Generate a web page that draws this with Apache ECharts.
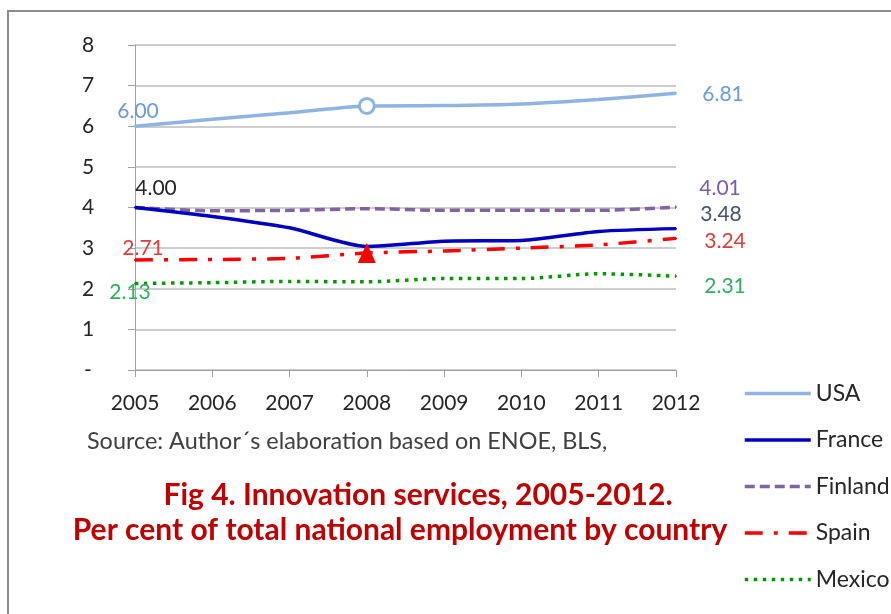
<!DOCTYPE html>
<html><head><meta charset="utf-8">
<script src="https://cdn.jsdelivr.net/npm/echarts@6/dist/echarts.min.js"></script>
<style>html,body{margin:0;padding:0;background:#fff}#c{width:891px;height:614px}</style>
</head><body><div id="c"></div>
<script>
const years = ['2005','2006','2007','2008','2009','2010','2011','2012'];
const yTickLabels = ['-','1','2','3','4','5','6','7','8'];
const usa     = [6.00, 6.17, 6.33, 6.50, 6.51, 6.55, 6.66, 6.81];
const france  = [4.00, 3.78, 3.50, 3.04, 3.17, 3.19, 3.41, 3.48];
const finland = [4.00, 3.92, 3.93, 3.97, 3.93, 3.93, 3.93, 4.01];
const spain   = [2.71, 2.72, 2.75, 2.88, 2.93, 3.00, 3.08, 3.24];
const mexico  = [2.13, 2.15, 2.18, 2.17, 2.25, 2.25, 2.37, 2.31];
const seriesNames = ['USA','France','Finland','Spain','Mexico'];
const sourceText = 'Source: Author\u00b4s elaboration based on ENOE, BLS,';
const titleLine1 = 'Fig 4. Innovation services, 2005-2012.';
const titleLine2 = 'Per cent of total national employment by country';

const FONT = 'Lato';
const chart = echarts.init(document.getElementById('c'));

function build(vals, color, cfg) {
  return vals.map((v, i) => {
    const item = { value: v };
    const lab = cfg.labels[i];
    if (lab) {
      item.symbol = 'circle';
      item.symbolSize = 2;
      item.itemStyle = { color };
      item.label = { show: true, position: 'inside', offset: lab.off, color: lab.color,
        fontFamily: FONT, fontSize: 21, formatter: p => p.value.toFixed(2) };
    }
    if (cfg.marker && cfg.marker.index === i) {
      item.symbol = cfg.marker.symbol;
      item.symbolSize = cfg.marker.size;
      item.itemStyle = cfg.marker.itemStyle;
    }
    return item;
  });
}

function mk(name, vals, color, width, type, labels, marker, z) {
  return {
    name, type: 'line', smooth: 0.25, symbol: 'none', z: z,
    lineStyle: { color, width, type, cap: 'butt' },
    itemStyle: { color },
    data: build(vals, color, { labels, marker })
  };
}

const option = {
  animation: false,
  grid: { left: 135, right: 215, top: 45, bottom: 244 },
  xAxis: {
    type: 'category', data: years, boundaryGap: false,
    axisLine: { lineStyle: { color: '#a0a0a0', width: 1 } },
    axisTick: { show: true, length: 7, lineStyle: { color: '#a0a0a0' } },
    axisLabel: { color: '#262626', fontFamily: FONT, fontSize: 21, margin: 23 },
    splitLine: { show: false }
  },
  yAxis: {
    type: 'value', min: 0, max: 8, interval: 1,
    axisLine: { show: true, lineStyle: { color: '#a0a0a0' } },
    axisTick: { show: true, length: 7, lineStyle: { color: '#a0a0a0' } },
    axisLabel: { color: '#262626', fontFamily: FONT, fontSize: 21, margin: 47, align: 'center',
      formatter: v => yTickLabels[Math.round(v)] },
    splitLine: { lineStyle: { color: '#bcbcbc', width: 1.5 } }
  },
  legend: {
    orient: 'vertical', left: 738, top: 377, itemWidth: 66, itemHeight: 14, itemGap: 23.5,
    itemStyle: { opacity: 0 },
    lineStyle: { width: 3.5 },
    textStyle: { color: '#262626', fontFamily: FONT, fontSize: 23 },
    data: seriesNames
  },
  series: [
    mk('USA', usa, '#8EB4E3', 3.5, 'solid',
       {0: {off: [3, -15], color: '#6C9BD9'}, 7: {off: [47, 1], color: '#6C9BD9'}},
       { index: 3, symbol: 'circle', size: 15, itemStyle: { color: '#fff', borderColor: '#8EB4E3', borderWidth: 3 } }, 2),
    mk('France', france, '#0000C0', 3.5, 'solid',
       {0: {off: [21, -19], color: '#262626'}, 7: {off: [45, -14], color: '#44546A'}}, null, 4),
    mk('Finland', finland, '#8064A2', 3.5, [10, 5],
       {7: {off: [44, -19], color: '#7B5EA7'}}, null, 3),
    mk('Spain', spain, '#FF0000', 3.5, [18, 11, 4, 11],
       {0: {off: [8, -12], color: '#E03C3C'}, 7: {off: [49, 3], color: '#E03C3C'}},
       { index: 3, symbol: 'triangle', size: [18, 20], itemStyle: { color: '#FF0000' } }, 5),
    mk('Mexico', mexico, '#009A00', 3.5, [3.5, 5.5],
       {0: {off: [-5, 9], color: '#2FB05F'}, 7: {off: [49, 10], color: '#2FB05F'}}, null, 3)
  ],
  graphic: [
    { type: 'polyline', shape: { points: [[8, 614], [8, 11], [891, 11]] },
      style: { stroke: '#8c8c8c', lineWidth: 2, fill: null } },
    { type: 'text', x: 87, y: 441,
      style: { text: sourceText, fill: '#404040', font: '23.4px Lato', textVerticalAlign: 'middle' } },
    { type: 'text', x: 418, y: 495,
      style: { text: titleLine1, fill: '#C00000', font: 'bold 30px Lato', textAlign: 'center', textVerticalAlign: 'middle' } },
    { type: 'text', x: 400, y: 530,
      style: { text: titleLine2, fill: '#C00000', font: 'bold 30px Lato', textAlign: 'center', textVerticalAlign: 'middle' } }
  ]
};
chart.setOption(option);
</script></body></html>
